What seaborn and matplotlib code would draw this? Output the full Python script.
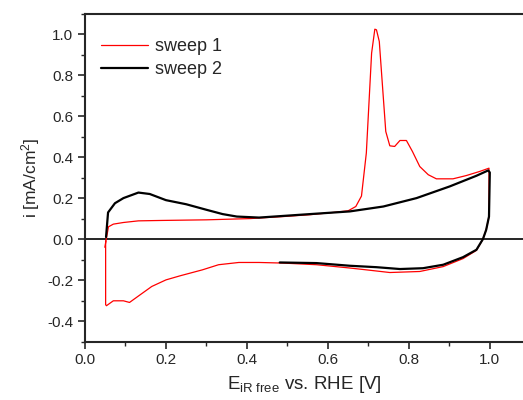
import numpy as np
import pandas as pd
import matplotlib
matplotlib.use("Agg")
import matplotlib.pyplot as plt
from matplotlib.ticker import MultipleLocator
import seaborn as sns

# sweep 1 (red): anodic scan 0.05 -> 1.0 V, then cathodic back to 0.05 V
s1_E = [0.049, 0.058, 0.070, 0.095, 0.132, 0.190, 0.300, 0.407, 0.490, 0.556,
        0.613, 0.650, 0.669, 0.683, 0.695, 0.708, 0.716, 0.720, 0.727, 0.735,
        0.743, 0.753, 0.765, 0.778, 0.794, 0.809, 0.827, 0.848, 0.868, 0.909,
        0.942, 0.975, 0.998,
        0.998, 0.991, 0.983, 0.967, 0.934, 0.885, 0.827, 0.753, 0.695, 0.654,
        0.572, 0.490, 0.430, 0.380, 0.330, 0.290, 0.235, 0.200, 0.165, 0.136,
        0.110, 0.095, 0.070, 0.053, 0.051, 0.051]
s1_i = [-0.04, 0.06, 0.073, 0.081, 0.089, 0.091, 0.094, 0.100, 0.110, 0.119,
        0.130, 0.138, 0.159, 0.210, 0.420, 0.907, 1.024, 1.021, 0.964, 0.744,
        0.525, 0.455, 0.452, 0.481, 0.481, 0.427, 0.354, 0.314, 0.294, 0.294,
        0.310, 0.330, 0.346,
        0.110, 0.045, 0.000, -0.055, -0.095, -0.134, -0.158, -0.163, -0.150, -0.141,
        -0.125, -0.117, -0.114, -0.114, -0.125, -0.150, -0.179, -0.199, -0.231, -0.272,
        -0.309, -0.301, -0.301, -0.325, -0.32, -0.01]

# sweep 2 (black): anodic scan 0.05 -> 1.0 V, cathodic back to ~0.48 V
s2_E = [0.052, 0.057, 0.074, 0.095, 0.132, 0.160, 0.200, 0.250, 0.300, 0.340,
        0.375, 0.430, 0.556, 0.654, 0.737, 0.819, 0.901, 0.967, 0.996, 1.000,
        0.998, 0.991, 0.983, 0.967, 0.934, 0.885, 0.835, 0.778, 0.720, 0.654,
        0.572, 0.481]
s2_i = [0.010, 0.130, 0.175, 0.200, 0.227, 0.220, 0.190, 0.170, 0.143, 0.122,
        0.110, 0.105, 0.122, 0.135, 0.159, 0.200, 0.257, 0.309, 0.335, 0.325,
        0.110, 0.045, 0.000, -0.052, -0.088, -0.125, -0.142, -0.146, -0.137, -0.130,
        -0.117, -0.114]

sweep1 = pd.DataFrame({"E": s1_E, "i": s1_i})
sweep2 = pd.DataFrame({"E": s2_E, "i": s2_i})

sns.set_style("ticks")
plt.rcParams["font.family"] = ["Liberation Sans", "DejaVu Sans"]
plt.rcParams["mathtext.fontset"] = "custom"
plt.rcParams["mathtext.rm"] = "Liberation Sans"
plt.rcParams["mathtext.it"] = "Liberation Sans"

fig = plt.figure(figsize=(5.23, 4.0), dpi=100)
ax = fig.add_axes([0.1625, 0.146, 0.8375, 0.82])

ax.axhline(0, color="black", lw=1.2, zorder=1)
sns.lineplot(data=sweep1, x="E", y="i", sort=False, estimator=None,
             color="red", lw=0.9, label="sweep 1", ax=ax)
sns.lineplot(data=sweep2, x="E", y="i", sort=False, estimator=None,
             color="black", lw=1.6, label="sweep 2", ax=ax)

ax.set_xlim(0, 1.082)
ax.set_ylim(-0.5, 1.1)
ax.xaxis.set_major_locator(MultipleLocator(0.2))
ax.xaxis.set_minor_locator(MultipleLocator(0.1))
ax.yaxis.set_major_locator(MultipleLocator(0.2))
ax.yaxis.set_minor_locator(MultipleLocator(0.1))
ax.xaxis.set_major_formatter(matplotlib.ticker.FormatStrFormatter("%.1f"))
ax.yaxis.set_major_formatter(matplotlib.ticker.FormatStrFormatter("%.1f"))
ax.tick_params(which="major", direction="out", length=5, width=1.2, labelsize=11)
ax.tick_params(which="minor", direction="out", length=3, width=1.0)

for side in ["left", "bottom", "top"]:
    ax.spines[side].set_linewidth(1.5)
ax.spines["right"].set_visible(False)

ax.set_xlabel(r"E$_{\mathrm{iR\ free}}$ vs. RHE [V]", fontsize=13.5, labelpad=5)
ax.set_ylabel(r"i [mA/cm$^2$]", fontsize=12.5, labelpad=4)

ax.legend(loc="upper left", bbox_to_anchor=(0.0, 0.975), frameon=False,
          fontsize=13, handlelength=2.6, handletextpad=0.35, labelspacing=0.35)

fig.savefig("out.png", dpi=100)
